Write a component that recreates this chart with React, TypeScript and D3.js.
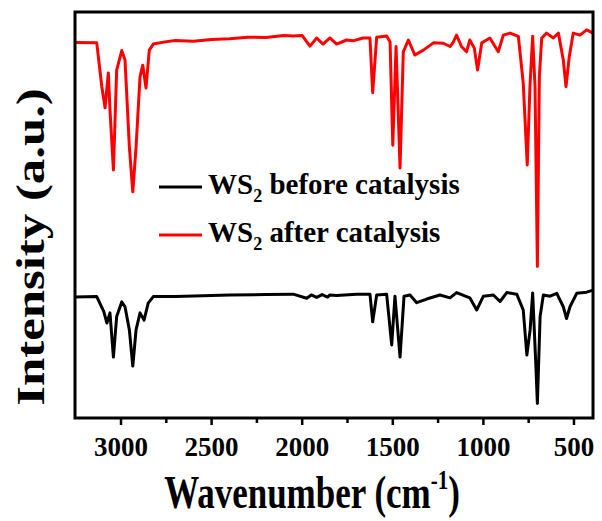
import React from "react";
import * as d3 from "d3";

// FTIR spectra (wavenumber in cm-1, intensity in a.u.)
const afterWavenumber = [
  3254, 3134, 3106, 3088, 3070, 3061, 3042, 3024, 2996, 2978, 2954, 2935, 2917, 2895, 2880, 2862, 2844, 2822,
  2748, 2700, 2600, 2500, 2400, 2300, 2200, 2100, 2050, 2000, 1957, 1920, 1885, 1847, 1810, 1755, 1720, 1664,
  1626, 1611, 1589, 1534, 1515, 1500, 1482, 1460, 1442, 1414, 1378, 1331, 1276, 1221, 1184, 1166, 1148, 1121,
  1093, 1075, 1050, 1032, 1009, 964, 918, 890, 853, 807, 780, 758, 743, 728, 715, 702, 691, 678, 651, 614, 586,
  559, 544, 526, 504, 467, 430, 395,
];
const afterIntensity = [
  92.5, 92.4, 81.6, 76.4, 85.0, 75.9, 61.1, 85.7, 90.5, 88.2, 66.8, 55.7, 66.7, 84.1, 86.9, 81.3, 90.6, 92.1,
  92.7, 93.0, 92.8, 93.2, 93.4, 93.8, 93.7, 94.2, 94.1, 94.2, 91.6, 93.6, 92.1, 93.6, 92.1, 93.1, 92.9, 93.6,
  93.6, 80.1, 93.8, 94.1, 92.6, 67.2, 91.5, 61.6, 90.2, 93.1, 89.4, 90.6, 92.4, 92.3, 91.5, 92.6, 94.3, 91.5,
  90.2, 93.1, 91.1, 85.7, 92.4, 93.6, 90.2, 94.3, 94.8, 94.0, 82.5, 62.3, 81.6, 94.0, 81.6, 37.3, 84.1, 93.6,
  94.8, 93.6, 94.8, 88.2, 81.6, 89.0, 94.8, 94.3, 95.6, 94.8,
];

const beforeWavenumber = [
  3254, 3134, 3095, 3078, 3061, 3042, 3024, 2996, 2978, 2954, 2935, 2917, 2895, 2873, 2850, 2822, 2700, 2400,
  2200, 2050, 1975, 1950, 1920, 1890, 1860, 1847, 1810, 1700, 1626, 1611, 1589, 1534, 1506, 1488, 1460, 1438,
  1405, 1368, 1313, 1240, 1184, 1148, 1075, 1037, 1000, 945, 908, 871, 816, 780, 760, 742, 728, 710, 702, 687,
  669, 632, 595, 559, 541, 522, 485, 430, 395,
];
const beforeIntensity = [
  29.8, 29.9, 26.2, 23.4, 25.9, 15.0, 25.0, 28.6, 27.4, 21.7, 12.8, 21.7, 25.9, 24.1, 28.3, 29.9, 29.9, 30.3,
  30.4, 30.5, 29.5, 30.3, 29.7, 30.4, 29.8, 30.3, 30.2, 30.5, 30.5, 23.7, 30.3, 30.5, 18.0, 30.0, 15.0, 30.0,
  30.3, 28.4, 29.3, 30.3, 29.6, 30.9, 29.6, 26.6, 30.0, 30.3, 28.7, 30.9, 30.5, 26.6, 15.5, 21.7, 30.8, 12.6,
  3.6, 25.0, 30.3, 30.0, 30.7, 27.4, 24.5, 27.4, 30.7, 31.0, 31.5,
];

const seriesNames = ["before catalysis", "after catalysis"];
const seriesColors = ["#000000", "#ff0000"];
const majorTicks = [3000, 2500, 2000, 1500, 1000, 500];
const minorTicks = [2750, 2250, 1750, 1250, 750];

const W = 602;
const H = 521;
const m = { left: 75, right: 9, top: 12, bottom: 103 };
const FONT = "'Liberation Serif', 'Times New Roman', serif";

export default function App() {
  const x = d3.scaleLinear().domain([3254, 395]).range([m.left, W - m.right]);
  const y = d3.scaleLinear().domain([0, 100]).range([H - m.bottom, m.top]);

  const line = d3
    .line<[number, number]>()
    .x((d) => x(d[0]))
    .y((d) => y(d[1]));

  const before = d3.zip(beforeWavenumber, beforeIntensity) as [number, number][];
  const after = d3.zip(afterWavenumber, afterIntensity) as [number, number][];
  const bottom = H - m.bottom;

  return (
    <svg
      width={W}
      height={H}
      style={{ position: "absolute", left: 0, top: 0, background: "#fff" }}
      fontFamily={FONT}
      fontWeight="bold"
    >
      <path d={line(after) || ""} fill="none" stroke={seriesColors[1]} strokeWidth={3} strokeLinejoin="round" />
      <path d={line(before) || ""} fill="none" stroke={seriesColors[0]} strokeWidth={3} strokeLinejoin="round" />

      <rect
        x={m.left}
        y={m.top}
        width={W - m.left - m.right}
        height={bottom - m.top}
        fill="none"
        stroke="#000"
        strokeWidth={3}
      />

      {majorTicks.map((t) => (
        <g key={t}>
          <line x1={x(t)} x2={x(t)} y1={bottom} y2={bottom + 7} stroke="#000" strokeWidth={2.5} />
          <text x={x(t)} y={bottom + 38} textAnchor="middle" fontSize={27}>
            {t}
          </text>
        </g>
      ))}
      {minorTicks.map((t) => (
        <line key={t} x1={x(t)} x2={x(t)} y1={bottom} y2={bottom + 5} stroke="#000" strokeWidth={2.5} />
      ))}

      <text transform={`translate(312, 508) scale(1, 1.35)`} textAnchor="middle" fontSize={35}>
        Wavenumber (cm
        <tspan fontSize={21} dy={-14}>-1</tspan>
        <tspan dy={14}>)</tspan>
      </text>

      <text transform={`translate(44, 247) rotate(-90) scale(1.27, 1)`} textAnchor="middle" fontSize={40}>
        Intensity (a.u.)
      </text>

      {seriesNames.map((name, i) => {
        const ly = 187 + i * 48;
        return (
          <g key={name}>
            <line x1={159} x2={202} y1={ly} y2={ly} stroke={seriesColors[i]} strokeWidth={3} />
            <text x={208} y={ly + 7} fontSize={29}>
              WS
              <tspan fontSize={18} dy={8}>2</tspan>
              <tspan dy={-8}> {name}</tspan>
            </text>
          </g>
        );
      })}
    </svg>
  );
}
